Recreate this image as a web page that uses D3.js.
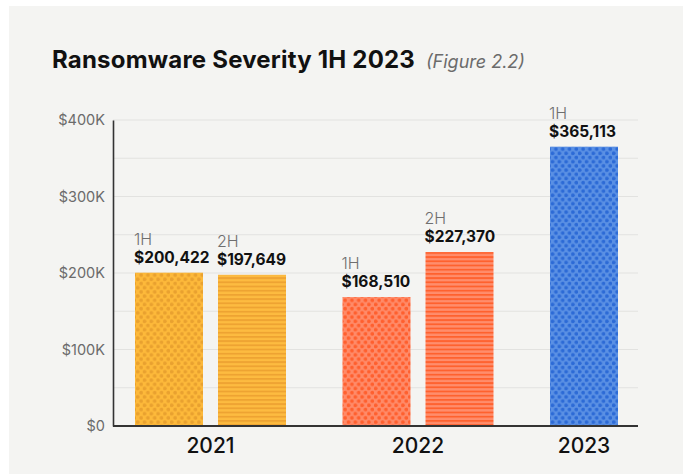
<!DOCTYPE html>
<html>
<head>
<meta charset="utf-8">
<script src="https://cdn.jsdelivr.net/npm/d3@7/dist/d3.min.js"></script>
<style>
  html, body { margin: 0; padding: 0; background: #ffffff; }
  svg { display: block; }
</style>
</head>
<body>
<svg id="chart" width="686" height="474"></svg>
<script>
// Ransomware claim severity by half-year
const years = ["2021", "2022", "2023"];
const periods = ["1H", "2H", "1H", "2H", "1H"];
const periodYears = ["2021", "2021", "2022", "2022", "2023"];
const severity = [200422, 197649, 168510, 227370, 365113];
const yTickValues = [0, 100000, 200000, 300000, 400000];
const yTickLabels = ["$0", "$100K", "$200K", "$300K", "$400K"];
const gridValues = [50000, 100000, 150000, 200000, 250000, 300000, 350000, 400000];

const svg = d3.select("#chart");
const W = 686, H = 474;
const plot = { left: 113, right: 638, top: 120, bottom: 426 };
const FONT = "Inter, Roboto, 'Noto Sans', sans-serif";

// panel background
svg.append("rect").attr("x", 9).attr("y", 6).attr("width", 674).attr("height", H - 6)
  .attr("fill", "#f4f4f2");

// title
const title = svg.append("text").attr("x", 52).attr("y", 68).attr("font-family", FONT);
title.append("tspan").attr("font-size", 24).attr("font-weight", 700).attr("fill", "#111")
  .attr("letter-spacing", 0.2)
  .text("Ransomware Severity 1H 2023");
title.append("tspan").attr("dx", 11).attr("font-size", 18).attr("font-style", "italic")
  .attr("letter-spacing", 0).attr("fill", "#6b6b6b").text("(Figure 2.2)");

// fill patterns: dots for first halves, stripes for second halves
const defs = svg.append("defs");
const palette = {
  "2021": { base: "#fdb93a", mark: "#e9a12f", stripeBase: "#fdbb40", stripe: "#eea332" },
  "2022": { base: "#ff8a68", mark: "#ff5f2e", stripeBase: "#ff8d6c", stripe: "#ff612e" },
  "2023": { base: "#5a90e4", mark: "#2c6ad6", stripeBase: "#5a90e4", stripe: "#2c6ad6" }
};
years.forEach(yr => {
  const c = palette[yr];
  const dots = defs.append("pattern").attr("id", "dots-" + yr)
    .attr("patternUnits", "userSpaceOnUse").attr("width", 6.8).attr("height", 8.4);
  dots.append("rect").attr("width", 6.8).attr("height", 8.4).attr("fill", c.base);
  dots.append("circle").attr("cx", 1.7).attr("cy", 2.1).attr("r", 1.9).attr("fill", c.mark);
  dots.append("circle").attr("cx", 5.1).attr("cy", 6.3).attr("r", 1.9).attr("fill", c.mark);

  const stripes = defs.append("pattern").attr("id", "stripes-" + yr)
    .attr("patternUnits", "userSpaceOnUse").attr("width", 8).attr("height", 4.2);
  stripes.append("rect").attr("width", 8).attr("height", 4.2).attr("fill", c.stripeBase);
  stripes.append("rect").attr("y", 0).attr("width", 8).attr("height", 1.8).attr("fill", c.stripe);
});

// scales
const y = d3.scaleLinear().domain([0, 400000]).range([plot.bottom, plot.top]);
// slot position: bars within a year sit side by side, years separated by a wider gap
const slotOf = i => years.indexOf(periodYears[i]) * 2.5 + periods.slice(0, i + 1)
  .filter((p, j) => periodYears[j] === periodYears[i]).length - 1;
const x = d3.scaleLinear().domain([0, 5]).range([135, 550]);
const barW = 68;

// gridlines
svg.append("g").selectAll("line").data(gridValues).join("line")
  .attr("x1", plot.left).attr("x2", plot.right)
  .attr("y1", d => y(d)).attr("y2", d => y(d))
  .attr("stroke", "#e2e2e0").attr("stroke-width", 1);

// y axis
const yAxis = d3.axisLeft(y).tickValues(yTickValues)
  .tickFormat((d, i) => yTickLabels[i]).tickSize(0).tickPadding(8);
const gy = svg.append("g").attr("transform", `translate(${plot.left},0)`).call(yAxis);
gy.select(".domain").attr("stroke", "#333").attr("stroke-width", 1.6);
gy.selectAll("text").attr("font-family", FONT)
  .attr("font-size", 14.5).attr("fill", "#6b6b6b");

// bars
const idx = d3.range(severity.length);
svg.append("g").selectAll("rect").data(idx).join("rect")
  .attr("x", i => x(slotOf(i)))
  .attr("y", i => y(severity[i]))
  .attr("width", barW)
  .attr("height", i => y(0) - y(severity[i]))
  .attr("fill", i => `url(#${periods[i] === "1H" ? "dots" : "stripes"}-${periodYears[i]})`);

// baseline
svg.append("line").attr("x1", plot.left).attr("x2", plot.right)
  .attr("y1", y(0)).attr("y2", y(0)).attr("stroke", "#333").attr("stroke-width", 2);

// value labels: period on top, dollar amount below it
const fmt = d3.format("$,");
const lab = svg.append("g").attr("font-family", FONT);
lab.selectAll("text.period").data(idx).join("text").attr("class", "period")
  .attr("x", i => x(slotOf(i)) - 1).attr("y", i => y(severity[i]) - 28)
  .attr("font-size", 16).attr("font-weight", 300).attr("fill", "#6f6f6f").text(i => periods[i]);
lab.selectAll("text.value").data(idx).join("text").attr("class", "value")
  .attr("x", i => x(slotOf(i)) - 1).attr("y", i => y(severity[i]) - 10)
  .attr("font-size", 15.5).attr("font-weight", 700).attr("fill", "#111")
  .text(i => fmt(severity[i]));

// year labels centred under each year's bars
svg.append("g").selectAll("text").data(years).join("text")
  .attr("x", yr => {
    const s = idx.filter(i => periodYears[i] === yr).map(slotOf);
    return (x(d3.min(s)) + x(d3.max(s)) + barW) / 2;
  })
  .attr("y", 453).attr("text-anchor", "middle")
  .attr("font-family", FONT)
  .attr("font-size", 21).attr("font-weight", 500).attr("fill", "#111")
  .text(d => d);
</script>
</body>
</html>
